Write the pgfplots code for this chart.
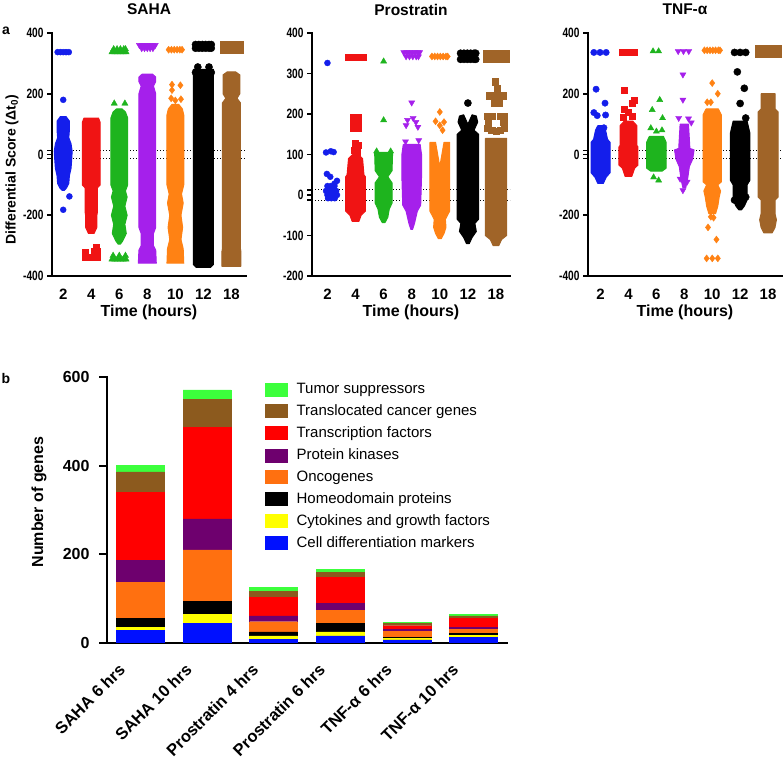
\documentclass[border=0pt]{standalone}
\usepackage{pgfplots}
\pgfplotsset{compat=1.18}
\usepackage{fontspec}
\setmainfont{Liberation Sans}
\definecolor{sBlue}{RGB}{20,30,235}
\definecolor{sRed}{RGB}{240,20,20}
\definecolor{sGreen}{RGB}{30,180,30}
\definecolor{sPurple}{RGB}{165,32,235}
\definecolor{sOrange}{RGB}{255,130,20}
\definecolor{sBrown}{RGB}{160,100,40}
\definecolor{bGreen}{RGB}{60,255,60}
\definecolor{bBrown}{RGB}{140,90,30}
\definecolor{bRed}{RGB}{255,0,0}
\definecolor{bPurple}{RGB}{110,0,110}
\definecolor{bOrange}{RGB}{255,112,16}
\definecolor{bYellow}{RGB}{255,255,0}
\definecolor{bBlue}{RGB}{0,16,255}
\pgfplotsset{
 dotpanel/.style={
   scale only axis, height=243pt,
   axis x line*=bottom, axis y line*=left,
   axis line style={line width=2.6pt, line cap=rect},
   tick align=outside, major tick length=5pt,
   tick style={black, line width=1.6pt},
   major x tick style=transparent,
   xtick={0,...,6}, xticklabels={2,4,6,8,10,12,18},
   xticklabel style={font=\fontsize{15}{15}\selectfont\bfseries, anchor=center, yshift=-13pt},
   yticklabel style={font=\fontsize{13.5}{13.5}\selectfont\bfseries},
   yticklabel={\scalebox{0.75}[1]{\pgfmathprintnumber{\tick}}},
   /pgf/number format/assume math mode=true,
   extra y ticks={-13,13}, extra y tick labels={{},{}},
   xlabel={Time (hours)},
   every axis x label/.style={at={(axis description cs:0.5,0)}, anchor=center, yshift=-36pt, font=\fontsize{16}{16}\selectfont\bfseries},
   every axis title/.style={at={(axis description cs:0.5,1)}, anchor=center, yshift=23.5pt, font=\fontsize{15.5}{15.5}\selectfont\bfseries},
 },
 poly/.style={fill=#1, draw=#1, line width=1pt, line join=round},
 mk/.style={only marks, color=#1, fill=#1},
 dline/.style={black, line width=1.2pt, dash pattern=on 1.2pt off 1.8pt},
 legsq/.style={legend image code/.code={\fill[##1] (0pt,-6.5pt) rectangle (22pt,6.5pt);}},
}
\begin{document}
\begin{tikzpicture}
\path[use as bounding box] (0,0) rectangle (784pt,760pt);
\node[font=\fontsize{14}{14}\selectfont\bfseries] at (6pt,729pt) {a};
\node[font=\fontsize{14}{14}\selectfont\bfseries] at (6pt,381pt) {b};
% ---------------- SAHA ----------------
\begin{axis}[dotpanel, at={(52pt,484pt)}, anchor=south west, width=194pt,
  xmin=-0.4, xmax=6.52, ymin=-400, ymax=400, ytick={-400,-200,0,200,400},
  title={SAHA}, ylabel={Differential Score (Δt\textsubscript{0})},
  every axis y label/.style={at={(axis description cs:-0.206,0.436)}, rotate=90, anchor=center, font=\fontsize{14}{14}\selectfont\bfseries}]
\addplot[dline] coordinates {(-0.4,13) (6.52,13)};
\addplot[dline] coordinates {(-0.4,-13) (6.52,-13)};
% blue
\addplot[poly=sBlue] coordinates {(-0.10,125) (-0.22,110) (-0.22,80) (-0.20,55) (-0.28,35) (-0.32,10) (-0.30,-20) (-0.28,-45) (-0.22,-70) (-0.20,-95) (-0.12,-110) (-0.04,-118) (0.04,-118) (0.12,-110) (0.20,-95) (0.22,-70) (0.28,-45) (0.30,-20) (0.32,10) (0.28,35) (0.20,55) (0.22,80) (0.22,110) (0.10,125) (-0.10,125)};
\addplot[mk=sBlue, mark=*, mark size=3pt] coordinates {(-0.2,337) (-0.1,337) (0,337) (0.1,337) (0.2,337) (0,180) (0.22,-138) (0,-182)};
% red
\addplot[poly=sRed] coordinates {(0.74,120) (0.68,105) (0.68,-100) (0.78,-110) (0.78,-190) (0.80,-200) (0.80,-240) (0.90,-260) (1.10,-260) (1.20,-240) (1.20,-200) (1.22,-190) (1.22,-110) (1.32,-100) (1.32,105) (1.26,120) (0.74,120)};
\addplot[mk=sRed, mark=square*, mark size=3pt] coordinates {(0.80,-338) (0.90,-338) (1.00,-338) (1.10,-338) (1.20,-338) (0.80,-322) (1.12,-320) (1.20,-318) (1.18,-304)};
% green
\addplot[poly=sGreen] coordinates {(1.90,150) (1.78,140) (1.70,120) (1.70,-100) (1.78,-120) (1.72,-140) (1.80,-170) (1.72,-200) (1.80,-230) (1.75,-260) (1.88,-285) (1.96,-295) (2.04,-295) (2.12,-285) (2.25,-260) (2.20,-230) (2.28,-200) (2.20,-170) (2.28,-140) (2.22,-120) (2.30,-100) (2.30,120) (2.22,140) (2.10,150) (1.90,150)};
\addplot[mk=sGreen, mark=triangle*, mark size=3.6pt] coordinates {(1.74,337) (1.84,337) (1.94,337) (2.04,337) (2.14,337) (2.24,337) (1.80,347) (1.92,347) (2.04,347) (2.16,347) (2.22,347) (1.82,168) (2.20,168) (1.74,-345) (1.84,-345) (1.94,-345) (2.04,-345) (2.14,-345) (2.24,-345) (1.78,-333) (2.0,-333) (2.22,-333)};
% purple
\addplot[poly=sPurple] coordinates {(2.82,265) (2.70,255) (2.70,240) (2.78,225) (2.70,200) (2.70,-240) (2.78,-260) (2.78,-300) (2.70,-315) (2.68,-358) (3.32,-358) (3.30,-315) (3.22,-300) (3.22,-260) (3.30,-240) (3.30,200) (3.22,225) (3.30,240) (3.30,255) (3.18,265) (2.82,265)};
\addplot[mk=sPurple, mark=triangle*, mark options={rotate=180}, mark size=3.6pt] coordinates {(2.72,360) (2.81,360) (2.90,360) (3.00,360) (3.09,360) (3.18,360) (3.28,360) (2.80,350) (2.90,350) (3.00,350) (3.10,350) (3.20,350)};
% orange
\addplot[poly=sOrange] coordinates {(3.88,165) (3.75,150) (3.70,130) (3.70,-100) (3.78,-130) (3.72,-160) (3.80,-200) (3.74,-240) (3.80,-280) (3.72,-310) (3.70,-358) (4.30,-358) (4.28,-310) (4.20,-280) (4.26,-240) (4.20,-200) (4.28,-160) (4.22,-130) (4.30,-100) (4.30,130) (4.25,150) (4.12,165) (3.88,165)};
\addplot[mk=sOrange, mark=diamond*, mark size=3.5pt] coordinates {(3.76,345) (3.86,345) (3.96,345) (4.06,345) (4.16,345) (4.24,345) (3.88,230) (4.18,228) (3.88,212) (3.85,185) (4.0,178) (4.2,182)};
% black
\addplot[poly=black] coordinates {(4.64,280) (4.64,-362) (4.75,-372) (5.25,-372) (5.36,-362) (5.36,280) (4.64,280)};
\addplot[mk=black, mark=*, mark size=3.6pt] coordinates {(4.72,350) (4.84,350) (4.96,350) (5.08,350) (5.20,350) (5.28,350) (4.72,362) (4.84,362) (4.96,362) (5.08,362) (5.20,362) (5.28,362) (4.80,288) (5.20,288) (4.72,270) (5.28,270)};
% brown
\addplot[poly=sBrown] coordinates {(5.85,272) (5.70,262) (5.70,200) (5.80,185) (5.68,170) (5.68,-310) (5.66,-320) (5.66,-368) (6.34,-368) (6.34,-320) (6.32,-310) (6.32,170) (6.20,185) (6.30,200) (6.30,262) (6.15,272) (5.85,272)};
\addplot[mk=sBrown, mark=square*, mark size=3.2pt] coordinates {(5.72,343) (5.84,343) (5.96,343) (6.08,343) (6.20,343) (6.30,343) (5.72,362) (5.84,362) (5.96,362) (6.08,362) (6.20,362) (6.30,362)};
\end{axis}
% ---------------- Prostratin ----------------
\begin{axis}[dotpanel, at={(312pt,484pt)}, anchor=south west, width=198pt,
  xmin=-0.55, xmax=6.5, ymin=-200, ymax=400, ytick={-200,-100,...,400},
  title={Prostratin}]
\addplot[dline] coordinates {(-0.55,13) (6.5,13)};
\addplot[dline] coordinates {(-0.55,-13) (6.5,-13)};
\addplot[mk=sBlue, mark=*, mark size=3pt] coordinates {(0.0,326) (-0.05,105) (0.12,108) (0.22,106) (-0.02,52) (0.1,45) (0.34,35) (0.25,28) (0.0,22) (0.12,22) (0.25,22) (-0.05,10) (0.07,10) (0.19,10) (0.31,10) (0.0,0) (0.12,0) (0.24,0) (0.34,0) (0.02,-8) (0.14,-8) (0.26,-8)};
% red
\addplot[poly=sRed] coordinates {(0.90,100) (0.75,90) (0.70,50) (0.65,45) (0.65,-40) (0.80,-50) (0.88,-65) (1.12,-65) (1.20,-50) (1.35,-40) (1.35,45) (1.30,50) (1.25,90) (1.10,100) (0.90,100)};
\addplot[mk=sRed, mark=square*, mark size=3pt] coordinates {(0.74,340) (0.86,340) (0.98,340) (1.10,340) (1.22,340) (1.27,340) (0.9,192) (1.1,192) (0.9,177) (1.0,172) (1.1,177) (0.92,165) (1.08,165) (1.0,128) (1.1,122) (0.95,110) (1.05,105)};
% green
\addplot[poly=sGreen] coordinates {(1.68,105) (1.70,60) (1.85,45) (1.70,30) (1.70,-20) (1.80,-35) (1.85,-55) (1.95,-68) (2.05,-68) (2.15,-55) (2.20,-35) (2.30,-20) (2.30,30) (2.15,45) (2.30,60) (2.32,105) (1.68,105)};
\addplot[mk=sGreen, mark=triangle*, mark size=3.5pt] coordinates {(2.0,330) (2.0,185) (1.75,108) (2.25,108) (1.85,95) (2.15,95)};
% purple
\addplot[poly=sPurple] coordinates {(2.70,125) (2.65,100) (2.65,45) (2.68,-25) (2.80,-40) (2.90,-70) (2.97,-85) (3.03,-85) (3.10,-70) (3.20,-40) (3.32,-25) (3.35,45) (3.35,100) (3.30,125) (2.70,125)};
\addplot[mk=sPurple, mark=triangle*, mark options={rotate=180}, mark size=3.5pt] coordinates {(2.72,352) (2.82,352) (2.92,352) (3.02,352) (3.12,352) (3.22,352) (3.28,352) (2.8,342) (2.92,342) (3.04,342) (3.16,342) (3.24,342) (3.0,228) (2.85,185) (3.05,190) (3.15,180) (2.8,172) (3.22,168) (2.78,132) (3.25,135)};
% orange
\addplot[poly=sOrange] coordinates {(3.65,130) (3.65,-40) (3.80,-60) (3.78,-80) (3.85,-95) (3.95,-108) (4.05,-108) (4.15,-95) (4.22,-80) (4.20,-60) (4.35,-40) (4.35,130) (4.15,130) (4.0,70) (3.85,130) (3.65,130)};
\addplot[mk=sOrange, mark=diamond*, mark size=3.5pt] coordinates {(3.72,342) (3.82,342) (3.92,342) (4.02,342) (4.12,342) (4.22,342) (4.28,342) (4.0,205) (3.85,182) (4.0,172) (4.15,180) (4.1,160)};
% black
\addplot[poly=black] coordinates {(4.70,195) (4.65,180) (4.78,160) (4.62,150) (4.62,-60) (4.75,-70) (4.70,-90) (4.85,-105) (4.95,-120) (5.05,-120) (5.15,-105) (5.30,-90) (5.25,-70) (5.38,-60) (5.38,150) (5.22,160) (5.35,180) (5.30,195) (5.15,198) (5.0,175) (4.85,198) (4.70,195)};
\addplot[mk=black, mark=*, mark size=3.6pt] coordinates {(4.74,335) (4.86,335) (4.98,335) (5.10,335) (5.22,335) (5.28,335) (4.74,350) (4.86,350) (4.98,350) (5.10,350) (5.22,350) (5.28,350) (5.0,227)};
% brown
\addplot[poly=sBrown] coordinates {(5.62,140) (5.62,-100) (5.80,-110) (5.90,-125) (6.10,-125) (6.20,-110) (6.38,-100) (6.38,140) (5.62,140)};
\addplot[mk=sBrown, mark=square*, mark size=3.2pt] coordinates {(5.66,335) (5.78,335) (5.90,335) (6.02,335) (6.14,335) (6.26,335) (6.34,335) (5.66,350) (5.78,350) (5.90,350) (6.02,350) (6.14,350) (6.26,350) (6.34,350) (5.98,280) (6.05,262) (5.75,245) (5.88,245) (6.0,240) (6.12,245) (6.25,245) (5.95,228) (6.1,228) (5.7,195) (5.72,180) (5.7,165) (6.3,195) (6.28,180) (6.3,165) (5.85,160) (6.0,157) (6.15,160) (5.85,195) (6.15,195)};
\end{axis}
% ---------------- TNF ----------------
\begin{axis}[dotpanel, at={(588pt,484pt)}, anchor=south west, width=194pt,
  xmin=-0.45, xmax=6.5, ymin=-400, ymax=400, ytick={-400,-200,0,200,400},
  title={TNF-α}]
\addplot[dline] coordinates {(-0.45,13) (6.5,13)};
\addplot[dline] coordinates {(-0.45,-13) (6.5,-13)};
% blue
\addplot[poly=sBlue] coordinates {(-0.10,95) (-0.18,80) (-0.25,50) (-0.34,40) (-0.34,-60) (-0.20,-75) (-0.10,-95) (0.10,-95) (0.20,-75) (0.34,-60) (0.34,40) (0.25,50) (0.18,80) (0.10,95) (-0.10,95)};
\addplot[mk=sBlue, mark=*, mark size=3.2pt] coordinates {(-0.24,336) (-0.02,336) (0.2,336) (-0.16,215) (0.16,169) (-0.24,138) (-0.12,128) (0.18,130) (0.12,88)};
% red
\addplot[poly=sRed] coordinates {(0.85,110) (0.70,95) (0.70,30) (0.66,25) (0.66,-35) (0.78,-45) (0.88,-72) (1.12,-72) (1.22,-45) (1.34,-35) (1.34,25) (1.30,30) (1.30,95) (1.15,110) (0.85,110)};
\addplot[mk=sRed, mark=square*, mark size=3pt] coordinates {(0.78,336) (0.92,336) (1.06,336) (1.2,336) (0.85,212) (1.2,180) (1.12,170) (0.85,150) (1.0,140) (1.15,125) (0.82,122)};
% green
\addplot[poly=sGreen] coordinates {(1.75,60) (1.65,40) (1.65,-45) (1.80,-55) (2.20,-55) (2.35,-45) (2.35,40) (2.25,60) (1.75,60)};
\addplot[mk=sGreen, mark=triangle*, mark size=3.5pt] coordinates {(1.88,340) (2.08,340) (2.12,180) (1.85,147) (2.22,120) (1.8,87) (2.0,76) (2.2,80) (1.9,-75) (2.08,-85)};
% purple
\addplot[poly=sPurple] coordinates {(2.85,100) (2.80,20) (2.65,15) (2.70,-15) (2.82,-40) (2.88,-80) (2.95,-110) (3.05,-110) (3.12,-80) (3.18,-40) (3.30,-15) (3.35,15) (3.20,20) (3.15,100) (2.85,100)};
\addplot[mk=sPurple, mark=triangle*, mark options={rotate=180}, mark size=3.5pt] coordinates {(2.78,340) (2.97,340) (3.16,340) (2.95,263) (2.95,180) (2.8,120) (3.15,118) (3.25,105) (2.85,-80) (3.1,-90) (2.95,-118)};
% orange
\addplot[poly=sOrange] coordinates {(3.78,150) (3.67,130) (3.67,-90) (3.80,-100) (3.70,-120) (3.75,-140) (3.80,-170) (3.88,-195) (4.12,-195) (4.20,-170) (4.25,-140) (4.30,-120) (4.20,-100) (4.33,-90) (4.33,130) (4.22,150) (3.78,150)};
\addplot[mk=sOrange, mark=diamond*, mark size=3.5pt] coordinates {(3.72,343) (3.82,343) (3.92,343) (4.02,343) (4.12,343) (4.22,343) (4.28,343) (4.0,235) (4.2,200) (3.82,172) (3.95,172) (3.85,-240) (4.15,-280) (3.8,-342) (4.0,-342) (4.2,-342) (3.95,-205) (4.05,-208)};
% black
\addplot[poly=black] coordinates {(4.75,110) (4.65,70) (4.65,-85) (4.75,-100) (4.75,-150) (4.85,-170) (4.95,-182) (5.05,-182) (5.15,-170) (5.25,-150) (5.25,-100) (5.35,-85) (5.35,70) (5.25,110) (4.75,110)};
\addplot[mk=black, mark=*, mark size=3.6pt] coordinates {(4.8,336) (5.0,336) (5.2,336) (4.9,272) (5.15,218) (5.0,168) (5.2,120) (4.8,-150) (5.2,-140)};
% brown
\addplot[poly=sBrown] coordinates {(5.75,200) (5.75,150) (5.64,140) (5.64,-140) (5.75,-150) (5.75,-195) (5.70,-215) (5.75,-240) (5.85,-258) (6.15,-258) (6.25,-240) (6.30,-215) (6.25,-195) (6.25,-150) (6.36,-140) (6.36,140) (6.25,150) (6.25,200) (5.75,200)};
\addplot[mk=sBrown, mark=square*, mark size=3.2pt] coordinates {(5.66,332) (5.78,332) (5.90,332) (6.02,332) (6.14,332) (6.26,332) (6.34,332) (5.66,348) (5.78,348) (5.90,348) (6.02,348) (6.14,348) (6.26,348) (6.34,348)};
\end{axis}
% ---------------- Bar chart ----------------
\begin{axis}[at={(107pt,117pt)}, anchor=south west, scale only axis, width=400pt, height=266pt,
  ybar stacked, bar width=0.72,
  xmin=-0.5, xmax=5.5, ymin=0, ymax=600, ytick={0,200,400,600},
  xtick={0,...,5},
  xticklabels={SAHA 6 hrs, SAHA 10 hrs, Prostratin 4 hrs, Prostratin 6 hrs, TNF-α 6 hrs, TNF-α 10 hrs},
  axis x line*=bottom, axis y line*=left,
  axis line style={line width=2.8pt, line cap=rect},
  tick align=outside, major tick length=8pt,
  tick style={black, line width=1.8pt},
  major x tick style=transparent,
  /pgf/number format/assume math mode=true,
  yticklabel style={font=\fontsize{16}{16}\selectfont\bfseries, xshift=-6pt},
  xticklabel style={font=\fontsize{16.5}{16.5}\selectfont\bfseries, rotate=45, anchor=north east, inner sep=1pt, xshift=-23pt, yshift=9pt},
  ylabel={Number of genes},
  every axis y label/.style={at={(axis description cs:-0.17,0.53)}, rotate=90, anchor=center, font=\fontsize{16}{16}\selectfont\bfseries},
  reverse legend,
  legend style={at={(0.3875,0.99)}, anchor=north west, draw=none, fill=none,
    font=\fontsize{15}{15}\selectfont, legend cell align=left, row sep=6.7pt,
    nodes={inner sep=1.5pt}, /tikz/every odd column/.append style={column sep=7.5pt}},
]
\addplot[fill=bBlue, draw=bBlue, legsq] coordinates {(0,28) (1,45) (2,8) (3,16) (4,7) (5,12)};
\addplot[fill=bYellow, draw=bYellow, legsq] coordinates {(0,7) (1,20) (2,8) (3,9) (4,3) (5,6)};
\addplot[fill=black, draw=black, legsq] coordinates {(0,21) (1,29) (2,9) (3,19) (4,3) (5,4)};
\addplot[fill=bOrange, draw=bOrange, legsq] coordinates {(0,81) (1,116) (2,23) (3,29) (4,13) (5,9)};
\addplot[fill=bPurple, draw=bPurple, legsq] coordinates {(0,49) (1,70) (2,13) (3,17) (4,4) (5,4)};
\addplot[fill=bRed, draw=bRed, legsq] coordinates {(0,154) (1,206) (2,42) (3,58) (4,9) (5,21)};
\addplot[fill=bBrown, draw=bBrown, legsq] coordinates {(0,46) (1,64) (2,13) (3,11) (4,5) (5,5)};
\addplot[fill=bGreen, draw=bGreen, legsq] coordinates {(0,14) (1,21) (2,9) (3,7) (4,3) (5,4)};
\legend{Cell differentiation markers, Cytokines and growth factors, Homeodomain proteins, Oncogenes, Protein kinases, Transcription factors, Translocated cancer genes, Tumor suppressors}
\end{axis}
\end{tikzpicture}
\end{document}
